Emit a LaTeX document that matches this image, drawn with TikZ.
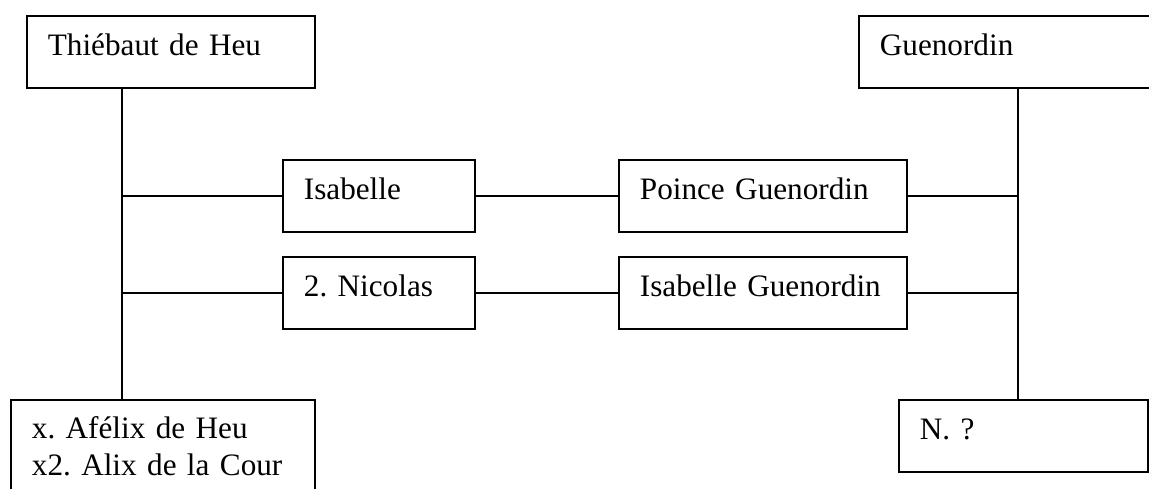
\documentclass[tikz,border=0pt]{standalone}
\usepackage{fontspec}
\setmainfont{Liberation Serif}
\frenchspacing
\tikzset{
  personbox/.style={draw, line width=0.9pt, anchor=north west, inner xsep=10.5pt, inner ysep=0pt,
    text height=20pt, text depth=16pt, align=left, text width=#1,
    font=\fontsize{15.6}{18.5}\selectfont},
  link/.style={line width=0.9pt}
}
\begin{document}
\begin{tikzpicture}[x=0.5pt, y=-0.5pt]
\useasboundingbox (0,0) rectangle (1149,488);
\clip (0,0) rectangle (1149,488);
\node[personbox=123pt] (thiebaut) at (26,15){Thiébaut de Heu};
\node[personbox=150pt] (guenordin) at (858,15){Guenordin};
\node[personbox=75pt] (isabelle) at (282,159){Isabelle};
\node[personbox=75pt] (nicolas) at (282,256){2. Nicolas};
\node[personbox=123pt] (poince) at (618,159){Poince Guenordin};
\node[personbox=123pt] (isabelleg) at (618,256){Isabelle Guenordin};
\node[personbox=131pt, text height=19.5pt, text depth=45pt] (afelix) at (10,399){x. Afélix de Heu\\x2. Alix de la Cour};
\node[personbox=103.5pt] (inconnu) at (898,399){N. ?};
\coordinate (ltrunk) at (122,0);
\coordinate (rtrunk) at (1018,0);
\draw[link] (thiebaut.south -| ltrunk) -- (afelix.north -| ltrunk);
\draw[link] (isabelle.west) -- (isabelle.west -| ltrunk);
\draw[link] (nicolas.west) -- (nicolas.west -| ltrunk);
\draw[link] (isabelle.east) -- (poince.west);
\draw[link] (nicolas.east) -- (isabelleg.west);
\draw[link] (poince.east) -- (poince.east -| rtrunk);
\draw[link] (isabelleg.east) -- (isabelleg.east -| rtrunk);
\draw[link] (guenordin.south -| rtrunk) -- (inconnu.north -| rtrunk);
\end{tikzpicture}
\end{document}
